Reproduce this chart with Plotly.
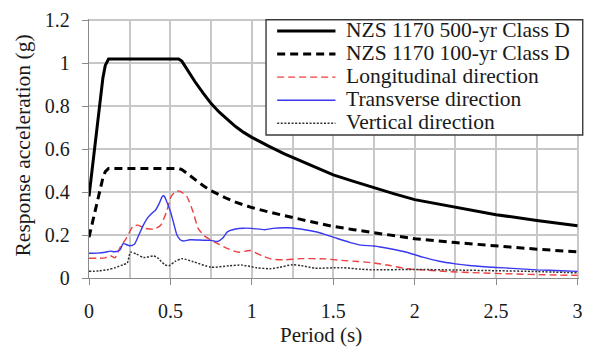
import plotly.graph_objects as go

# ---------------- data ----------------
period_500 = [0, 0.05, 0.085, 0.1, 0.12, 0.3, 0.55, 0.57, 0.59, 0.62, 0.65, 0.7, 0.75,
              0.8, 0.85, 0.9, 0.95, 1.0, 1.1, 1.2, 1.3, 1.4, 1.5, 1.625, 1.75, 1.875,
              2.0, 2.25, 2.5, 2.75, 3.0]
acc_500 = [0.38, 0.70, 0.93, 0.99, 1.02, 1.02, 1.02, 1.01, 0.985, 0.95, 0.915, 0.862,
           0.812, 0.772, 0.737, 0.705, 0.678, 0.655, 0.615, 0.578, 0.545, 0.511, 0.48,
           0.45, 0.42, 0.392, 0.365, 0.33, 0.295, 0.268, 0.243]

period_100 = period_500
acc_100 = [0.19, 0.35, 0.465, 0.495, 0.51, 0.51, 0.51, 0.505, 0.493, 0.475, 0.458,
           0.431, 0.406, 0.386, 0.369, 0.353, 0.339, 0.328, 0.308, 0.289, 0.273, 0.256,
           0.24, 0.225, 0.21, 0.196, 0.183, 0.165, 0.148, 0.134, 0.122]

period_long = [0, 0.05, 0.1, 0.13, 0.16, 0.19, 0.23, 0.27, 0.3, 0.34, 0.4, 0.44, 0.475,
               0.505, 0.535, 0.56, 0.6, 0.64, 0.67, 0.71, 0.78, 0.86, 0.92, 0.99, 1.06,
               1.12, 1.2, 1.3, 1.45, 1.55, 1.65, 1.75, 1.85, 1.95, 2.07, 2.2, 2.4, 2.6,
               2.8, 3.0]
acc_long = [0.092, 0.092, 0.094, 0.104, 0.094, 0.142, 0.186, 0.24, 0.246, 0.232, 0.228,
            0.246, 0.306, 0.38, 0.405, 0.403, 0.38, 0.306, 0.231, 0.195, 0.164, 0.134,
            0.12, 0.128, 0.104, 0.088, 0.085, 0.09, 0.089, 0.082, 0.077, 0.07, 0.058,
            0.043, 0.037, 0.03, 0.024, 0.019, 0.015, 0.012]

period_trans = [0, 0.05, 0.1, 0.13, 0.16, 0.19, 0.21, 0.25, 0.28, 0.3, 0.333, 0.36,
                0.385, 0.41, 0.43, 0.45, 0.46, 0.475, 0.5, 0.52, 0.54, 0.56, 0.58, 0.62,
                0.7, 0.75, 0.79, 0.82, 0.85, 0.9, 0.95, 1.0, 1.08, 1.13, 1.2, 1.25, 1.3,
                1.4, 1.5, 1.6, 1.67, 1.75, 1.85, 1.95, 2.05, 2.15, 2.25, 2.35, 2.5, 2.6,
                2.75, 2.9, 3.0]
acc_trans = [0.115, 0.116, 0.12, 0.125, 0.122, 0.13, 0.16, 0.15, 0.158, 0.19, 0.245,
             0.28, 0.30, 0.318, 0.345, 0.38, 0.383, 0.36, 0.31, 0.255, 0.2, 0.178, 0.172,
             0.178, 0.176, 0.175, 0.17, 0.185, 0.215, 0.228, 0.232, 0.231, 0.225, 0.231,
             0.234, 0.233, 0.228, 0.214, 0.19, 0.166, 0.153, 0.149, 0.136, 0.12, 0.097,
             0.078, 0.066, 0.057, 0.049, 0.045, 0.038, 0.034, 0.031]

period_vert = [0, 0.06, 0.12, 0.16, 0.21, 0.235, 0.255, 0.29, 0.335, 0.395, 0.42, 0.465,
               0.49, 0.53, 0.57, 0.64, 0.75, 0.86, 0.94, 1.03, 1.11, 1.17, 1.25, 1.3,
               1.39, 1.55, 1.67, 1.75, 2.0, 2.25, 2.5, 2.75, 3.0]
acc_vert = [0.031, 0.033, 0.04, 0.048, 0.062, 0.07, 0.12, 0.112, 0.095, 0.103, 0.095,
            0.062, 0.057, 0.078, 0.09, 0.076, 0.05, 0.057, 0.06, 0.048, 0.043, 0.05,
            0.062, 0.058, 0.046, 0.048, 0.041, 0.038, 0.04, 0.037, 0.034, 0.03, 0.024]

series_names = ["NZS 1170 500-yr Class D", "NZS 1170 100-yr Class D",
                "Longitudinal direction", "Transverse direction", "Vertical direction"]

x_tick_vals = [0, 0.5, 1, 1.5, 2, 2.5, 3]
x_tick_text = ["0", "0.5", "1", "1.5", "2", "2.5", "3"]
y_tick_vals = [0, 0.2, 0.4, 0.6, 0.8, 1.0, 1.2]
y_tick_text = ["0", "0.2", "0.4", "0.6", "0.8", "1", "1.2"]

x_title = "Period (s)"
y_title = "Response acceleration (g)"

# ---------------- styles ----------------
FONT = "Liberation Serif"
TXT = "#1a1a1a"
styles = [
    dict(color="black", width=3, dash="solid", shape="linear"),
    dict(color="black", width=3, dash="8px,5px", shape="linear"),
    dict(color="#ee4040", width=1.4, dash="7px,4px", shape="spline"),
    dict(color="#3838f0", width=1.4, dash="solid", shape="spline"),
    dict(color="#303030", width=1.5, dash="2px,1.6px", shape="spline"),
]
xs = [period_500, period_100, period_long, period_trans, period_vert]
ys = [acc_500, acc_100, acc_long, acc_trans, acc_vert]

fig = go.Figure()
for name, x, y, st in zip(series_names, xs, ys, styles):
    line = dict(color=st["color"], width=st["width"], dash=st["dash"], shape=st["shape"])
    if st["shape"] == "spline":
        line["smoothing"] = 0.6
    fig.add_trace(go.Scatter(x=x, y=y, name=name, mode="lines", showlegend=False,
                             cliponaxis=False, line=line))

GRID = "#c8c8c8"
AX = "#8a8a8a"
fig.update_layout(
    width=592, height=353,
    margin=dict(l=89, r=12, t=9, b=75),
    paper_bgcolor="white", plot_bgcolor="white",
    font=dict(family=FONT, size=20, color=TXT),
    xaxis=dict(
        range=[0, 3.009], tickvals=x_tick_vals, ticktext=x_tick_text,
        showgrid=True, gridcolor=GRID, gridwidth=1.6,
        minor=dict(dtick=0.25, tick0=0, showgrid=True, gridcolor=GRID, gridwidth=1.6),
        showline=True, linecolor=AX, linewidth=1.3,
        ticks="outside", ticklen=6, tickcolor=AX,
        tickfont=dict(family=FONT, size=20, color=TXT),
        ticklabelstandoff=9, ticklabeloverflow="allow",
        zeroline=False,
    ),
    yaxis=dict(
        range=[0, 1.206], tickvals=y_tick_vals, ticktext=y_tick_text,
        showgrid=True, gridcolor=GRID, gridwidth=1.6,
        showline=True, linecolor=AX, linewidth=1.3,
        ticks="outside", ticklen=6, tickcolor=AX,
        tickfont=dict(family=FONT, size=20, color=TXT),
        ticklabelstandoff=8, ticklabeloverflow="allow",
        zeroline=False,
    ),
)

# axis titles
fig.add_annotation(xref="paper", yref="paper", x=0.474, y=-0.22,
                   xanchor="center", yanchor="middle", showarrow=False,
                   text=x_title, font=dict(family=FONT, size=21, color=TXT))
fig.add_annotation(xref="paper", yref="paper", x=-0.135, y=0.511,
                   xanchor="center", yanchor="middle", showarrow=False, textangle=-90,
                   text=y_title, font=dict(family=FONT, size=21.5, color=TXT))

# ---------------- legend (drawn in paper coordinates) ----------------
leg_x0, leg_x1, leg_y0, leg_y1 = 0.3613, 1.0076, 0.552, 0.997
fig.add_shape(type="rect", xref="paper", yref="paper",
              x0=leg_x0, x1=leg_x1, y0=leg_y0, y1=leg_y1,
              line=dict(color="#3a3a3a", width=1.4), fillcolor="white", layer="above")
row_top = 0.958
row_step = 0.0892
for i, (name, st) in enumerate(zip(series_names, styles)):
    yy = row_top - i * row_step
    fig.add_shape(type="line", xref="paper", yref="paper",
                  x0=0.384, x1=0.503, y0=yy - 0.004, y1=yy - 0.004, layer="above",
                  line=dict(color=st["color"], width=st["width"], dash=st["dash"]))
    fig.add_annotation(xref="paper", yref="paper", x=0.521, y=yy,
                       xanchor="left", yanchor="middle", showarrow=False,
                       text=name, font=dict(family=FONT, size=21.5, color=TXT))

fig.write_html("out.html")
